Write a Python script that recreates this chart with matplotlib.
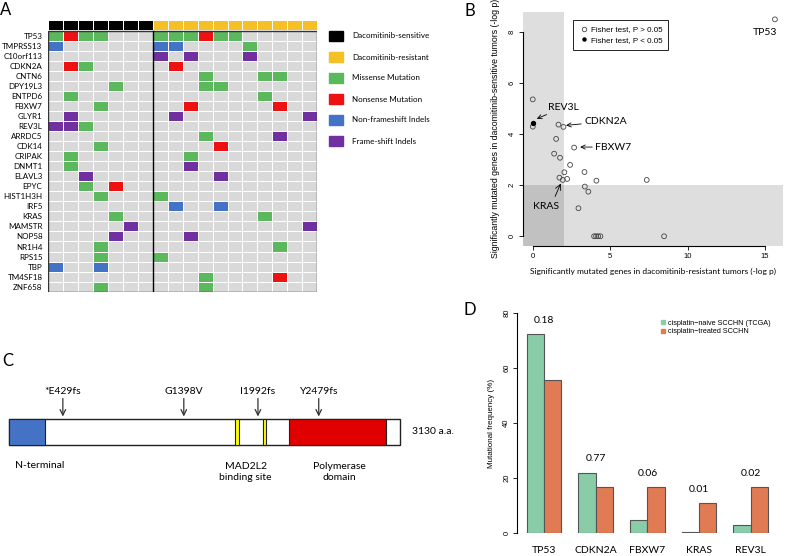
import matplotlib
matplotlib.use('Agg')
import matplotlib.pyplot as plt
import numpy as np
from matplotlib.colors import ListedColormap
from matplotlib.patches import Rectangle
from matplotlib.lines import Line2D

W, H = 787, 556
CAL = ['Lato', 'DejaVu Sans']          # stand-in for Calibri
ARI = ['Liberation Sans', 'DejaVu Sans']  # stand-in for Arial (R output)

# ---------------- data ----------------
# panel A: mutation matrix, 7 sensitive + 11 resistant tumors
# codes: . none, M missense, N nonsense, I non-frameshift indel, F frame-shift indel
genes = ['TP53', 'TMPRSS13', 'C10orf113', 'CDKN2A', 'CNTN6', 'DPY19L3', 'ENTPD6',
         'FBXW7', 'GLYR1', 'REV3L', 'ARRDC5', 'CDK14', 'CRIPAK', 'DNMT1', 'ELAVL3',
         'EPYC', 'HIST1H3H', 'IRF5', 'KRAS', 'MAMSTR', 'NOP58', 'NR1H4', 'RPS15',
         'TBP', 'TM4SF18', 'ZNF658']
sensitive = ['MNMM...', 'I......', '.......', '.NM....', '.......', '....M..', '.M.....',
             '...M...', '.F.....', 'FFM....', '.......', '...M...', '.M.....', '.M.....',
             '..F....', '..M.N..', '...M...', '.......', '....M..', '.....F.', '....F..',
             '...M...', '...M...', 'I..I...', '.......', '...M...']
resistant = ['MMMNMM.....', 'II....M....', 'F.F...F....', '.N.........', '...M...MM..',
             '...MM......', '.......M...', '..N.....N..', '.F........F', '...........',
             '...M....F..', '....N......', '..M........', '..F........', '....F......',
             '...........', 'M..........', '.I..I......', '.......M...', '..........F',
             '..F........', '........M..', 'M..........', '...........', '...M....N..',
             '...M.......']
legend_a = ['Dacomitinib-sensitive', 'Dacomitinib-resistant', 'Missense Mutation',
            'Nonsense Mutation', 'Non-frameshift Indels', 'Frame-shift Indels']

# panel B: -log p in resistant (x) and sensitive (y) tumors
res_logp = [15.64, 0.0, 0.0, 0.0, 1.66, 1.98, 1.51, 2.67, 1.38, 1.76, 2.41, 2.04, 3.34,
            1.72, 1.94, 2.22, 4.11, 7.36, 3.36, 3.59, 2.95, 3.96, 4.09, 4.22, 4.37, 8.48]
sens_logp = [8.51, 5.37, 4.43, 4.30, 4.38, 4.29, 3.82, 3.48, 3.24, 3.08, 2.80, 2.51, 2.52,
             2.30, 2.21, 2.25, 2.18, 2.21, 1.95, 1.75, 1.10, 0, 0, 0, 0, 0]
fisher_sig = [False, False, True] + [False] * 23

# panel C: REV3L protein
rev3l_len = 3130
domains = [(0, 288, '#4472c4'), (1808, 1838, '#ffff00'), (2030, 2060, '#ffff00'),
           (2239, 3018, '#e00000')]
mut_pos = [429, 1398, 1992, 2479]
mut_lab = ['*E429fs', 'G1398V', 'I1992fs', 'Y2479fs']

# panel D: mutational frequency
d_genes = ['TP53', 'CDKN2A', 'FBXW7', 'KRAS', 'REV3L']
naive = [72.4, 22.1, 4.7, 0.5, 2.9]
treated = [55.6, 16.7, 16.7, 11.1, 16.7]
pvals = ['0.18', '0.77', '0.06', '0.01', '0.02']


def rect(x0, y0, x1, y1):
    return [x0 / W, 1 - y1 / H, (x1 - x0) / W, (y1 - y0) / H]


fig = plt.figure(figsize=(W / 100, H / 100), dpi=100)

# ---------------- panel A ----------------
code = {'.': 0, 'M': 1, 'N': 2, 'I': 3, 'F': 4}
mat = np.array([[code[c] for c in s + r] for s, r in zip(sensitive, resistant)])
cmap = ListedColormap(['#d9d9d9', '#5cb85c', '#ee1111', '#4472c4', '#7030a0'])
axA = fig.add_axes(rect(48, 20.5, 317.3, 291.7))
axA.pcolormesh(np.arange(19), np.arange(27), mat, cmap=cmap, vmin=0, vmax=4,
               edgecolors='white', linewidth=0.5)
n_s, n_r = len(sensitive[0]), len(resistant[0])
head = np.array([[0] * n_s + [1] * n_r])
axA.pcolormesh(np.arange(19), [-1, -0.05], head, cmap=ListedColormap(['black', '#f4c025']),
               edgecolors='white', linewidth=0.4)
axA.add_patch(Rectangle((0, 0), 18, 26, fill=False, ec='#333333', lw=1))
axA.plot([n_s, n_s], [0, 26], color='black', lw=1)
axA.set_xlim(0, 18)
axA.set_ylim(26, -1)
axA.set_xticks([])
axA.set_yticks(np.arange(26) + 0.5)
axA.set_yticklabels(genes, family=CAL, fontsize=5.8)
axA.tick_params(axis='y', length=0, pad=4)
for s in axA.spines.values():
    s.set_visible(False)

# legend for A
axL = fig.add_axes(rect(320, 10, 445, 160))
axL.set_xlim(320, 445)
axL.set_ylim(160, 10)
axL.axis('off')
leg_cols = ['black', '#f4c025', '#5cb85c', '#ee1111', '#4472c4', '#7030a0']
for i, (lab, c) in enumerate(zip(legend_a, leg_cols)):
    yc = 36 + i * 21
    axL.add_patch(Rectangle((329, yc - 5), 14, 10, color=c))
    axL.text(352, yc, lab, family=CAL, fontsize=5.8, va='center')

# ---------------- panel B ----------------
axB = fig.add_axes(rect(522.7, 11.7, 783, 245.7))
axB.axvspan(-0.65, 2, color='black', alpha=0.13, lw=0)
axB.axhspan(-0.37, 2, color='black', alpha=0.13, lw=0)
sig = np.array(fisher_sig)
xs, ys = np.array(res_logp), np.array(sens_logp)
axB.scatter(xs[~sig], ys[~sig], s=12, facecolors='none', edgecolors='#444444', lw=0.6)
axB.scatter(xs[sig], ys[sig], s=8, color='black')
axB.set_xlim(-0.65, 16.16)
axB.set_ylim(-0.37, 8.81)
for s in ['top', 'right']:
    axB.spines[s].set_visible(False)
axB.spines['left'].set_bounds(0, 8)
axB.spines['bottom'].set_bounds(0, 15)
axB.set_xticks([0, 5, 10, 15])
axB.set_yticks([0, 2, 4, 6, 8])
axB.tick_params(labelsize=5.5, length=3, width=0.6, pad=2)
for t in axB.get_xticklabels() + axB.get_yticklabels():
    t.set_family(ARI)
plt.setp(axB.get_yticklabels(), rotation=90, va='center')
axB.set_xlabel('Significantly mutated genes in dacomitinib-resistant tumors (-log p)',
               family=CAL, fontsize=6.0, labelpad=6)
axB.set_ylabel('Significantly mutated genes in dacomitinib-sensitive tumors (-log p)',
               family=ARI, fontsize=6.3, labelpad=6)
h1 = Line2D([], [], ls='', marker='o', mfc='none', mec='#444444', ms=3.2, mew=0.6)
h2 = Line2D([], [], ls='', marker='o', color='black', ms=2.2)
lg = axB.legend([h1, h2], ['Fisher test, P > 0.05', 'Fisher test, P < 0.05'],
                loc='upper left', bbox_to_anchor=(0.194, 0.964), borderaxespad=0,
                fancybox=False, edgecolor='black', framealpha=1,
                prop={'family': ARI, 'size': 5.8},
                handletextpad=0.3, borderpad=0.7, labelspacing=0.4, handlelength=1.2)
lg.get_frame().set_linewidth(0.6)
ak = dict(arrowstyle='->', color='black', lw=0.6, shrinkA=0, shrinkB=0)
axB.text(15.0, 8.0, 'TP53', family=CAL, fontsize=7.5, ha='center', va='center')
axB.annotate('REV3L', xy=(0.26, 4.61), xytext=(1.0, 5.06), family=CAL, fontsize=7.5,
             va='center', arrowprops=ak)
axB.annotate('CDKN2A', xy=(2.15, 4.35), xytext=(3.31, 4.5), family=CAL, fontsize=7.5,
             va='center', arrowprops=ak)
axB.annotate('FBXW7', xy=(3.06, 3.5), xytext=(4.02, 3.5), family=CAL, fontsize=7.5,
             va='center', arrowprops=ak)
axB.text(0.86, 1.16, 'KRAS', family=CAL, fontsize=7.5, ha='center', va='center')
axB.annotate('', xy=(1.81, 2.07), xytext=(1.44, 1.56), arrowprops=ak)

# ---------------- panel C ----------------
px_per_aa = 390.7 / rev3l_len
axC = fig.add_axes(rect(0, 380, 440, 495))
axC.set_xlim(-9.3 / px_per_aa, (440 - 9.3) / px_per_aa)
axC.set_ylim(495, 380)
axC.axis('off')
axC.add_patch(Rectangle((0, 419.3), rev3l_len, 26, fc='white', ec='#222222', lw=1))
for a, b, c in domains:
    axC.add_patch(Rectangle((a, 419.3), b - a, 26, fc=c, ec='#222222', lw=0.8))
for p, lab in zip(mut_pos, mut_lab):
    axC.annotate('', xy=(p, 416.5), xytext=(p, 398.5),
                 arrowprops=dict(arrowstyle='->', color='#333333', lw=0.9, shrinkA=0, shrinkB=0))
    axC.text(p, 391, lab, family=CAL, fontsize=7.5, ha='center', va='center')
axC.text((412 - 9.3) / px_per_aa, 432, '3130 a.a.', family=CAL, fontsize=7.5, va='center')
axC.text((15 - 9.3) / px_per_aa, 465, 'N-terminal', family=CAL, fontsize=7.5, va='center')
axC.text((245.7 - 9.3) / px_per_aa, 472, 'MAD2L2\nbinding site', family=CAL, fontsize=7.5,
         ha='center', va='center', linespacing=1.25)
axC.text((339 - 9.3) / px_per_aa, 472, 'Polymerase\ndomain', family=CAL, fontsize=7.5,
         ha='center', va='center', linespacing=1.25)

# ---------------- panel D ----------------
axD = fig.add_axes(rect(517.3, 313.3, 787, 533.3))
x = np.arange(len(d_genes))
bw = 0.335
axD.bar(x - bw / 2, naive, bw, color='#88cca8', edgecolor='#555555', lw=0.8)
axD.bar(x + bw / 2, treated, bw, color='#e07b54', edgecolor='#555555', lw=0.8)
for i, p in enumerate(pvals):
    axD.text(x[i], max(naive[i], treated[i]) + 5, p, family=CAL, fontsize=7.5,
             ha='center', va='center')
axD.set_xlim(-0.516, 4.70)
axD.set_ylim(0, 80)
for s in ['top', 'right', 'bottom']:
    axD.spines[s].set_visible(False)
axD.set_xticks(x)
axD.set_xticklabels(d_genes, family=CAL, fontsize=7.5)
axD.tick_params(axis='x', length=0, pad=9)
axD.set_yticks([0, 20, 40, 60, 80])
axD.tick_params(axis='y', labelsize=5.5, length=3, width=0.6, pad=2)
for t in axD.get_yticklabels():
    t.set_family(ARI)
plt.setp(axD.get_yticklabels(), rotation=90, va='center')
axD.set_ylabel('Mutational frequency (%)', family=ARI, fontsize=5.8, labelpad=6)
hd = [Line2D([], [], ls='', marker='s', color='#88cca8', ms=3),
      Line2D([], [], ls='', marker='s', color='#e07b54', ms=3)]
axD.legend(hd, ['cisplatin\u2212naive SCCHN (TCGA)', 'cisplatin\u2212treated SCCHN'],
           loc='upper left', bbox_to_anchor=(0.515, 0.985), frameon=False,
           prop={'family': ARI, 'size': 5.2}, handletextpad=0.2, labelspacing=0.25,
           handlelength=1, borderaxespad=0)

# panel letters
for lab, (px, py) in zip('ABCD', [(6, 10), (470, 11), (8, 361), (470, 310)]):
    fig.text(px / W, 1 - py / H, lab, family=CAL, fontsize=12, ha='center', va='center')

fig.savefig('out.png', dpi=100)
